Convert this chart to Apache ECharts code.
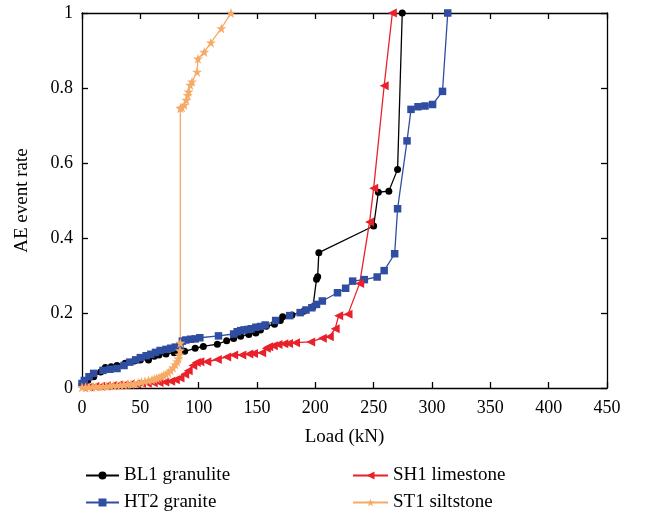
<!DOCTYPE html>
<html>
<head>
<meta charset="utf-8">
<script src="https://cdn.jsdelivr.net/npm/echarts@6/dist/echarts.min.js"></script>
<style>
  html, body { margin: 0; padding: 0; background: #fff; }
  #chart { width: 646px; height: 519px; }
</style>
</head>
<body>
<div id="chart"></div>
<script>
// Acoustic-emission event rate versus applied load for four rock specimens.
const seriesNames = ['BL1 granulite', 'HT2 granite', 'SH1 limestone', 'ST1 siltstone'];
const xTicks = [0, 50, 100, 150, 200, 250, 300, 350, 400, 450];
const yTicks = [0, 0.2, 0.4, 0.6, 0.8, 1];

// [load (kN), AE event rate]
const bl1Granulite = [
  [0, 0.01], [5, 0.02], [10, 0.03], [16, 0.043], [20, 0.055], [25, 0.057], [30, 0.06],
  [37, 0.066], [45, 0.072], [50, 0.075], [57, 0.075], [62, 0.085], [66, 0.088], [72, 0.091],
  [79, 0.094], [88, 0.098], [97, 0.106], [104, 0.111], [116, 0.117], [124, 0.126],
  [130, 0.132], [136, 0.138], [143, 0.143], [149, 0.147], [153, 0.155], [158, 0.165],
  [165, 0.17], [170, 0.18], [172, 0.19], [180, 0.195], [190, 0.205], [198, 0.217],
  [201, 0.29], [202, 0.297], [203, 0.361], [250, 0.432], [254, 0.522], [263, 0.525],
  [270.5, 0.583], [274.5, 1.0]
];
const ht2Granite = [
  [0, 0.012], [2, 0.02], [6, 0.03], [10, 0.039], [18, 0.047], [24, 0.05], [30, 0.052],
  [36, 0.06], [41, 0.069], [46, 0.075], [50, 0.081], [55, 0.086], [59, 0.09], [63, 0.095],
  [67, 0.1], [72, 0.103], [76, 0.106], [80, 0.109], [84, 0.112], [86, 0.125], [89, 0.128],
  [93, 0.13], [97, 0.131], [101, 0.134], [117, 0.139], [130, 0.144], [133, 0.15],
  [136, 0.153], [139, 0.155], [142, 0.156], [145, 0.158], [149, 0.162], [153, 0.164],
  [157, 0.168], [166, 0.18], [178, 0.193], [187, 0.201], [192, 0.208], [197, 0.214],
  [201, 0.223], [206, 0.232], [219, 0.254], [226, 0.266], [232, 0.285], [242, 0.289],
  [253, 0.296], [259, 0.313], [268, 0.358], [270.5, 0.478], [278.6, 0.659], [282, 0.743],
  [288, 0.75], [294, 0.752], [300.5, 0.756], [309, 0.791], [313.5, 1.0]
];
const sh1Limestone = [
  [1, 0.002], [6, 0.003], [11, 0.004], [16, 0.005], [21, 0.006], [26, 0.007], [31, 0.008],
  [36, 0.009], [41, 0.01], [46, 0.011], [51, 0.012], [56, 0.013], [61, 0.014], [66, 0.015],
  [71, 0.016], [76, 0.018], [80, 0.022], [84, 0.027], [88, 0.037], [91, 0.046], [95, 0.06],
  [98, 0.068], [101, 0.07], [107, 0.07], [116, 0.076], [124, 0.083], [130, 0.088],
  [137, 0.088], [143, 0.091], [147, 0.092], [154, 0.094], [158, 0.106], [160, 0.11],
  [164, 0.113], [168, 0.116], [173, 0.118], [177, 0.119], [183, 0.121], [196, 0.123],
  [206, 0.133], [212, 0.137], [217, 0.158], [220, 0.193], [228, 0.197], [238, 0.279],
  [246.5, 0.443], [250, 0.533], [259, 0.806], [266, 1.0]
];
const st1Siltstone = [
  [0, 0.002], [3, 0.002], [6, 0.003], [9, 0.003], [12, 0.004], [15, 0.004], [18, 0.005],
  [21, 0.005], [24, 0.006], [27, 0.007], [30, 0.007], [33, 0.008], [36, 0.009], [39, 0.01],
  [42, 0.011], [45, 0.012], [48, 0.014], [51, 0.016], [54, 0.018], [57, 0.02], [60, 0.022],
  [62, 0.024], [64, 0.026], [66, 0.028], [68, 0.031], [70, 0.034], [72, 0.037], [74, 0.041],
  [76, 0.047], [78, 0.054], [80, 0.063], [81.5, 0.07], [82.5, 0.078], [83.5, 0.088],
  [84, 0.1], [84.3, 0.12], [84.3, 0.746], [85.7, 0.748], [87.7, 0.755], [89.4, 0.768],
  [90.5, 0.781], [91.4, 0.79], [92.8, 0.808], [94.3, 0.817], [98.6, 0.843], [99.4, 0.878],
  [104.8, 0.896], [110.5, 0.921], [119.4, 0.959], [127.7, 1.0]
];

const FONT = '"Liberation Serif", "DejaVu Serif", serif';
const STAR = 'path://M50,0 L61.8,35.3 L98.9,35.3 L69,57.3 L80.3,92.7 L50,70.8 L19.7,92.7 L31,57.3 L1.1,35.3 L38.2,35.3 Z';

const chart = echarts.init(document.getElementById('chart'), null, { renderer: 'canvas' });

const axisLine = { show: true, onZero: false, lineStyle: { color: '#000', width: 1.3 } };
const axisTick = { show: true, inside: true, length: 6, lineStyle: { color: '#000', width: 1.3 } };

function makeSeries(name, data, color, symbol, size, extra) {
  return Object.assign({
    name: name,
    type: 'line',
    data: data,
    xAxisIndex: 0,
    yAxisIndex: 0,
    symbol: symbol,
    symbolSize: size,
    showAllSymbol: true,
    animation: false,
    lineStyle: { color: color, width: 1.3 },
    itemStyle: { color: color, borderWidth: 0 },
    emphasis: { disabled: true }
  }, extra || {});
}

const legendText = { fontFamily: FONT, fontSize: 19, color: '#000' };

chart.setOption({
  backgroundColor: '#fff',
  animation: false,
  textStyle: { fontFamily: FONT },
  grid: { left: 82, right: 39, top: 13, bottom: 131, containLabel: false },
  legend: [
    {
      data: [seriesNames[0], seriesNames[1]],
      orient: 'vertical', left: 80, top: 461,
      itemWidth: 33, itemHeight: 10, itemGap: 8,
      textStyle: legendText,
      selectedMode: false
    },
    {
      data: [seriesNames[2], seriesNames[3]],
      orient: 'vertical', left: 347, top: 461,
      itemWidth: 35, itemHeight: 10, itemGap: 8,
      textStyle: legendText,
      selectedMode: false
    }
  ],
  xAxis: [
    {
      type: 'value', min: xTicks[0], max: xTicks[xTicks.length - 1], interval: 50,
      position: 'bottom',
      name: 'Load (kN)', nameLocation: 'middle', nameGap: 40,
      nameTextStyle: { fontFamily: FONT, fontSize: 19, color: '#000' },
      axisLine: axisLine, axisTick: axisTick,
      axisLabel: { fontFamily: FONT, fontSize: 18, color: '#000', margin: 11 },
      splitLine: { show: false }
    },
    {
      type: 'value', min: xTicks[0], max: xTicks[xTicks.length - 1], interval: 50,
      position: 'top',
      axisLine: axisLine, axisTick: axisTick,
      axisLabel: { show: false }, splitLine: { show: false }
    }
  ],
  yAxis: [
    {
      type: 'value', min: yTicks[0], max: yTicks[yTicks.length - 1], interval: 0.2,
      position: 'left',
      name: 'AE event rate', nameLocation: 'middle', nameGap: 50, nameRotate: 90,
      nameTextStyle: { fontFamily: FONT, fontSize: 19, color: '#000' },
      axisLine: axisLine, axisTick: axisTick,
      axisLabel: { fontFamily: FONT, fontSize: 18, color: '#000', margin: 9 },
      splitLine: { show: false }
    },
    {
      type: 'value', min: yTicks[0], max: yTicks[yTicks.length - 1], interval: 0.2,
      position: 'right',
      axisLine: axisLine, axisTick: axisTick,
      axisLabel: { show: false }, splitLine: { show: false }
    }
  ],
  series: [
    makeSeries(seriesNames[0], bl1Granulite, '#000000', 'circle', 7),
    makeSeries(seriesNames[1], ht2Granite, '#2f4ea1', 'rect', 7.5),
    makeSeries(seriesNames[2], sh1Limestone, '#e8212b', 'triangle', 9, { symbolRotate: 90 }),
    makeSeries(seriesNames[3], st1Siltstone, '#f5ab67', STAR, 10)
  ]
});
</script>
</body>
</html>
